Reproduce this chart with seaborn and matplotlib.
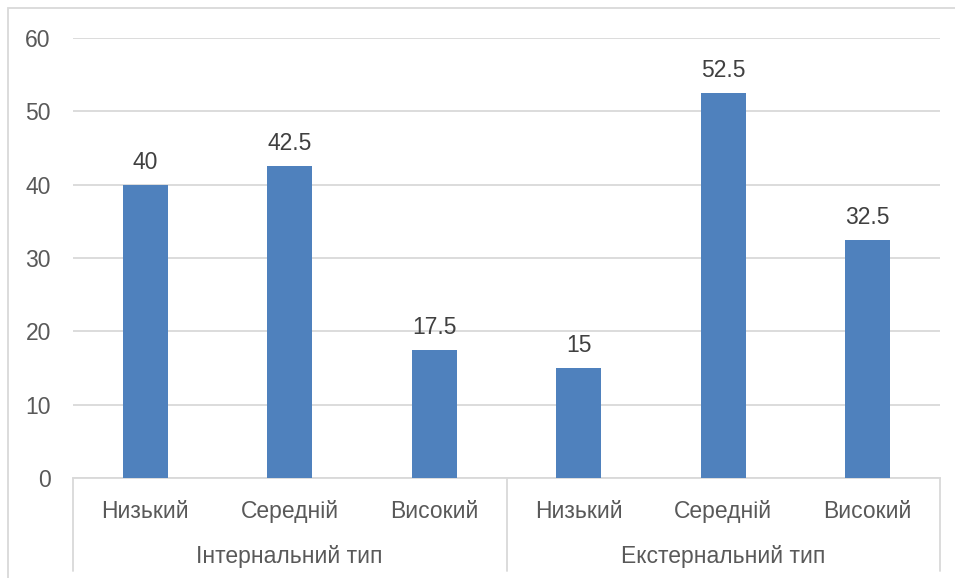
import matplotlib
matplotlib.use("Agg")
import matplotlib.pyplot as plt
import seaborn as sns
import pandas as pd

# Levels per group and their percentages
groups = ["Інтернальний тип", "Екстернальний тип"]
levels = ["Низький", "Середній", "Високий"]
internal_values = [40, 42.5, 17.5]
external_values = [15, 52.5, 32.5]

rows = []
for g, vals in zip(groups, [internal_values, external_values]):
    for lvl, v in zip(levels, vals):
        rows.append({"key": f"{g}|{lvl}", "group": g, "level": lvl, "value": v})
df = pd.DataFrame(rows)

sns.set_theme(style="white")
plt.rcParams["font.family"] = ["Liberation Sans", "DejaVu Sans"]

W, H = 955, 578
fig = plt.figure(figsize=(W / 100, H / 100), dpi=100)
ax = fig.add_axes([73 / W, 1 - 478 / H, (940 - 73) / W, (478 - 38) / H])

grid_c = "#d9d9d9"
text_c = "#595959"
bar_c = "#4f81bd"
fs = 16.5

sns.barplot(data=df, x="key", y="value", color=bar_c, width=0.31,
            saturation=1, linewidth=0, ax=ax, zorder=3)

ax.set_ylim(0, 60)
ax.set_xlim(-0.5, len(df) - 0.5)
ax.set_yticks(range(0, 61, 10))
ax.yaxis.grid(True, color=grid_c, linewidth=1.3, zorder=0)
ax.set_axisbelow(True)
for s in ["top", "right", "left"]:
    ax.spines[s].set_visible(False)
ax.spines["bottom"].set_color(grid_c)
ax.spines["bottom"].set_linewidth(1.3)
ax.set_xlabel("")
ax.set_ylabel("")
ax.set_xticks(range(len(df)))
ax.set_xticklabels(df["level"])
ax.tick_params(axis="x", length=0, pad=16, labelsize=fs, labelcolor=text_c)
ax.tick_params(axis="y", length=0, pad=16, labelsize=fs, labelcolor=text_c)

# Value labels above each bar
for i, v in enumerate(df["value"]):
    ax.annotate(f"{v:g}", (i, v), xytext=(0, 8), textcoords="offset points",
                ha="center", va="bottom", fontsize=fs, color="#404040")

# Group separators and group names below the category labels
trans = ax.get_xaxis_transform()
sep_bottom = -(571 - 478) / (478 - 38)
for x in [-0.5, 2.5, 5.5]:
    ax.plot([x, x], [0, sep_bottom], transform=trans, color=grid_c,
            linewidth=1.3, clip_on=False)
for gi, g in enumerate(groups):
    ax.text(gi * 3 + 1, -(556 - 478) / (478 - 38), g, transform=trans,
            ha="center", va="center", fontsize=fs, color=text_c)

# Outer chart frame
fig.patches.append(plt.Rectangle((8 / W, -0.1), 1.2, 1 - 8 / H + 0.1,
                                 transform=fig.transFigure, fill=False,
                                 edgecolor=grid_c, linewidth=1.3))

fig.savefig("out.png", dpi=100)
